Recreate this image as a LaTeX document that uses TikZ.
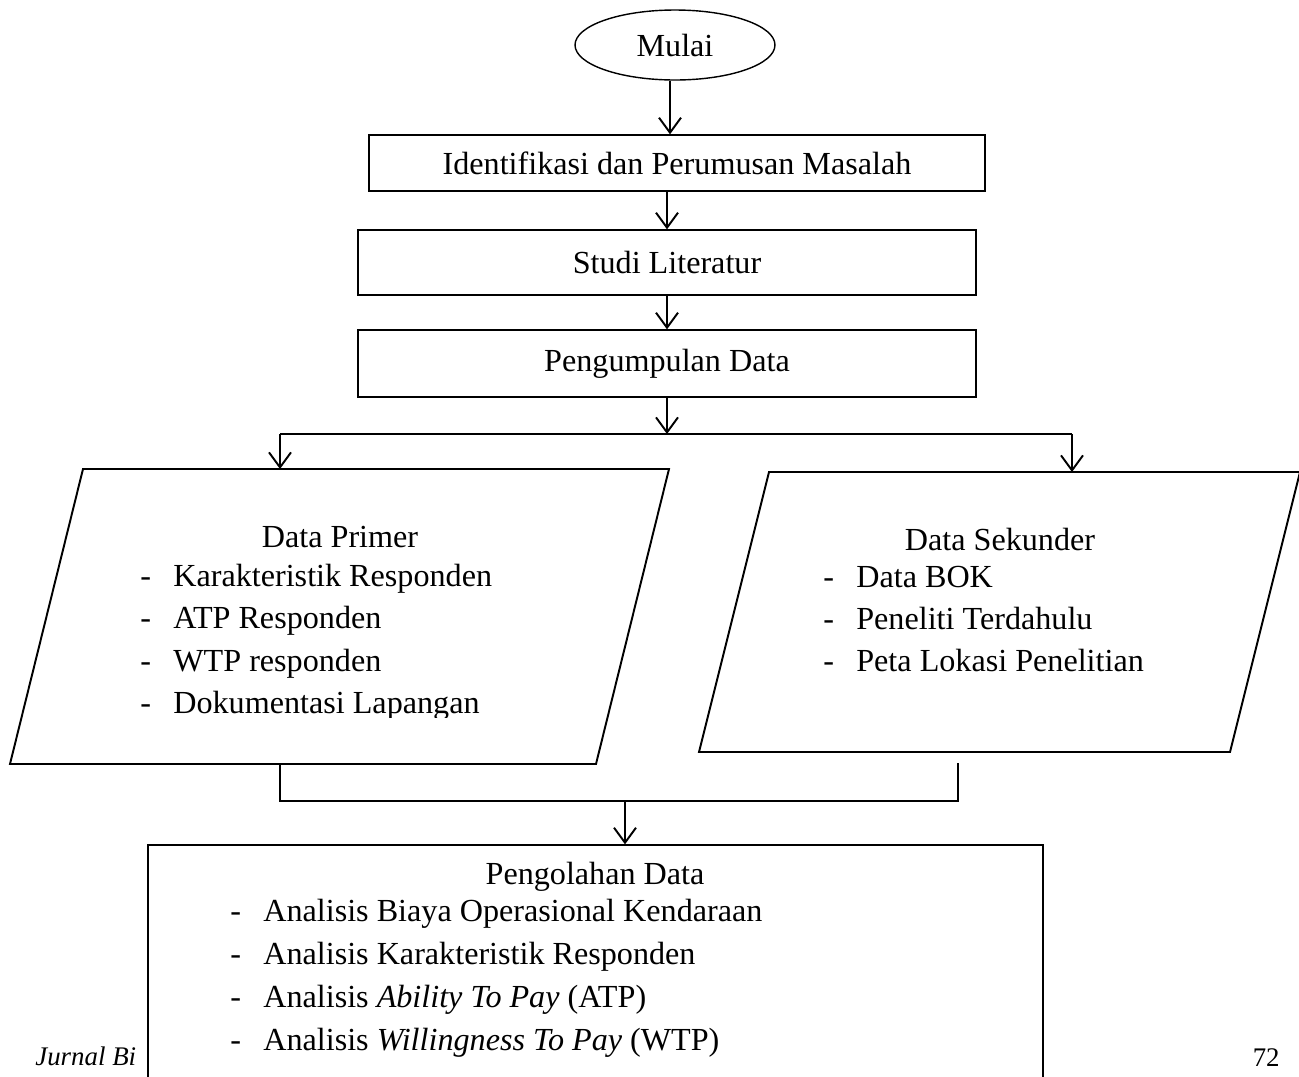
\documentclass[tikz,border=0pt]{standalone}
\usepackage{fontspec}
\setmainfont{Liberation Serif}
\usetikzlibrary{arrows.meta,shapes.geometric}

\newcommand{\butir}[1]{\makebox[0.66cm][l]{-}#1}

\begin{document}
\begin{tikzpicture}[x=0.02cm,y=-0.02cm,
  every node/.style={font=\fontsize{18.3}{24}\selectfont},
  box/.style={rectangle,draw,line width=0.8pt,inner sep=0pt},
  line/.style={line width=1.1pt},
  item/.style={anchor=base west,inner sep=0pt},
  judul/.style={anchor=base},
  >={Straight Barb[length=3mm,width=4.4mm]}]
\clip (0,0) rectangle (1299,1076);

% footer of the page
\node at (35,1065) [anchor=base west,inner sep=0pt,font=\itshape\fontsize{15.3}{18}\selectfont] (jurnal) {Jurnal Bi};
\node at (1280,1066) [anchor=base east,inner sep=0pt,font=\fontsize{15.3}{18}\selectfont] (hal) {72};

\node at (675,45) [ellipse,draw,line width=0.8pt,minimum width=4cm,minimum height=1.4cm,inner sep=0pt] (mulai) {Mulai};
\node at (677,163) [box,minimum width=12.32cm,minimum height=1.12cm] (ident) {Identifikasi dan Perumusan Masalah};
\node at (667,262.5) [box,minimum width=12.36cm,minimum height=1.3cm] (studi) {Studi Literatur};
\node at (667,363.5) [box,minimum width=12.36cm,minimum height=1.34cm] (kumpul) {Pengumpulan Data};

\coordinate (splitL) at (280,434);
\coordinate (splitR) at (1072,434);
\coordinate (split) at (kumpul.south |- splitL);
\coordinate (primerin) at (280,469);
\coordinate (sekunin) at (1072,472);

% data primer
\coordinate (pa) at (83,469);
\coordinate (pb) at (669,469);
\coordinate (pc) at (596,764);
\coordinate (pd) at (10,764);
\draw [line] (pa) -- (pb) -- (pc) -- (pd) -- cycle;
\node at (340,547) [judul] (primer) {Data Primer};
\node at (140,586) [item] (primer1) {\butir{Karakteristik Responden}};
\node at (140,628) [item] (primer2) {\butir{ATP Responden}};
\node at (140,671) [item] (primer3) {\butir{WTP responden}};
\begin{scope}
\clip (0,0) rectangle (1299,717);
\node at (140,713) [item] (primer4) {\butir{Dokumentasi Lapangan}};
\end{scope}

% data sekunder
\coordinate (sa) at (769,472);
\coordinate (sb) at (1300,472);
\coordinate (sc) at (1230,752);
\coordinate (sd) at (699,752);
\draw [line] (sa) -- (sb) -- (sc) -- (sd) -- cycle;
\node at (1000,550) [judul] (sekun) {Data Sekunder};
\node at (823,587) [item] (sekun1) {\butir{Data BOK}};
\node at (823,629) [item] (sekun2) {\butir{Peneliti Terdahulu}};
\node at (823,671) [item] (sekun3) {\butir{Peta Lokasi Penelitian}};

% pengolahan data
\node at (595.5,995) [box,fill=white,minimum width=17.9cm,minimum height=6cm] (olah) {};
\node at (595,884) [judul] (olahjudul) {Pengolahan Data};
\node at (230,921) [item] (olah1) {\butir{Analisis Biaya Operasional Kendaraan}};
\node at (230,964) [item] (olah2) {\butir{Analisis Karakteristik Responden}};
\node at (230,1007) [item] (olah3) {\butir{Analisis \textit{Ability To Pay} (ATP)}};
\node at (230,1050) [item] (olah4) {\butir{Analisis \textit{Willingness To Pay} (WTP)}};

\coordinate (pbot) at (280,764);
\coordinate (sbot) at (958,763);
\coordinate (joinL) at (280,801);
\coordinate (joinR) at (958,801);
\coordinate (join) at (625,801);

\draw [line,->] ([xshift=-0.1cm]mulai.south) -- ([xshift=-0.1cm]mulai.south |- ident.north);
\draw [line,->] (studi.north |- ident.south) -- (studi);
\draw [line,->] (kumpul.north |- studi.south) -- (kumpul);
\draw [line,->] (kumpul) -- (split);
\draw [line] (splitL) -- (splitR);
\draw [line,->] (splitL) -- (primerin);
\draw [line,->] (splitR) -- (sekunin);
\draw [line] (pbot) -- (joinL) -- (joinR) -- (sbot);
\draw [line,->] (join) -- (join |- olah.north);
\end{tikzpicture}
\end{document}
